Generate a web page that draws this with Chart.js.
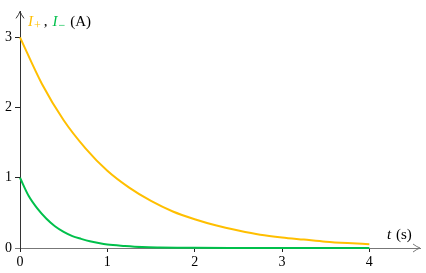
<!DOCTYPE html>
<html><head><meta charset="utf-8">
<script src="https://cdn.jsdelivr.net/npm/chart.js@4.4.0/dist/chart.umd.min.js"></script>
<style>html,body{margin:0;padding:0;background:#fff;}#wrap{width:426px;height:273px;position:relative;}</style>
</head><body><div id="wrap"><canvas id="c" width="426" height="273"></canvas></div>
<script>
const tPlus = [0,0.25,0.5,0.75,1,1.25,1.5,1.75,2,2.25,2.5,2.75,3,3.25,3.5,3.75,4];
const iPlus = [3,2.34,1.82,1.42,1.10,0.86,0.67,0.52,0.41,0.32,0.25,0.19,0.15,0.12,0.09,0.07,0.055];
const tMinus = [0,0.1,0.2,0.3,0.4,0.5,0.6,0.7,0.8,0.9,1,1.2,1.4,1.6,1.8,2,2.5,3,3.5,4];
const iMinus = [1,0.74,0.56,0.42,0.31,0.23,0.17,0.13,0.095,0.07,0.05,0.03,0.015,0.008,0.004,0.002,0.001,0,0,0];
const xTicks = [0,1,2,3,4];
const yTicks = [0,1,2,3];
const colPlus = '#ffbf00';
const colMinus = '#00c04b';

const serif = '"Liberation Serif", "DejaVu Serif", serif';

const decor = {
  id:'decor',
  afterDraw(chart){
    const ctx = chart.ctx, a = chart.chartArea;
    ctx.save();
    ctx.strokeStyle = '#333'; ctx.lineWidth = 1;
    ctx.beginPath();
    ctx.moveTo(a.left-4, a.top+7); ctx.quadraticCurveTo(a.left-1, a.top+3, a.left, a.top);
    ctx.quadraticCurveTo(a.left+1, a.top+3, a.left+4, a.top+7);
    ctx.stroke();
    ctx.strokeStyle = '#777';
    ctx.beginPath();
    ctx.moveTo(a.right-7, a.bottom-4); ctx.quadraticCurveTo(a.right-3, a.bottom-1, a.right, a.bottom);
    ctx.quadraticCurveTo(a.right-3, a.bottom+1, a.right-7, a.bottom+4);
    ctx.stroke();
    ctx.beginPath(); ctx.moveTo(a.left-5, a.bottom+0.5); ctx.lineTo(a.left, a.bottom+0.5); ctx.stroke();
    ctx.textBaseline = 'alphabetic';
    let x = 28, y = 26;
    ctx.fillStyle = colPlus; ctx.font = 'italic 15px ' + serif; ctx.fillText('I', x, y); x += ctx.measureText('I').width + 1;
    ctx.font = '12px ' + serif; ctx.fillText('+', x, y+3); x += ctx.measureText('+').width + 3;
    ctx.fillStyle = '#000'; ctx.font = '15px ' + serif; ctx.fillText(',', x, y); x += ctx.measureText(',').width + 5;
    ctx.fillStyle = colMinus; ctx.font = 'italic 15px ' + serif; ctx.fillText('I', x, y); x += ctx.measureText('I').width + 1;
    ctx.font = '12px ' + serif; ctx.fillText('\u2212', x, y+3); x += ctx.measureText('\u2212').width + 5;
    ctx.fillStyle = '#000'; ctx.font = '15px ' + serif; ctx.fillText('(A)', x, y);
    ctx.font = 'italic 15px ' + serif; ctx.fillText('t', 387, 239);
    ctx.font = '15px ' + serif; ctx.fillText('(s)', 396, 239);
    ctx.restore();
  }
};

new Chart(document.getElementById('c'), {
  type:'scatter',
  data:{datasets:[
    {data:tPlus.map((t,i)=>({x:t,y:iPlus[i]})), showLine:true, borderColor:colPlus, borderWidth:2, pointRadius:0, cubicInterpolationMode:'monotone', fill:false},
    {data:tMinus.map((t,i)=>({x:t,y:iMinus[i]})), showLine:true, borderColor:colMinus, borderWidth:2, pointRadius:0, cubicInterpolationMode:'monotone', fill:false}
  ]},
  options:{
    responsive:false, animation:false, clip:false,
    layout:{padding:{top:8,right:6,left:0,bottom:0}},
    plugins:{legend:{display:false}, tooltip:{enabled:false}},
    scales:{
      x:{type:'linear', min:0, max:4.58,
        afterBuildTicks(s){ s.ticks = xTicks.map(v=>({value:v})); },
        afterFit(s){ s.height = 25; },
        border:{display:true, color:'#777', width:1},
        grid:{drawOnChartArea:false, drawTicks:true, tickLength:4, color:'#222'},
        ticks:{color:'#000', padding:2, maxRotation:0, font:{family:serif, size:14}}
      },
      y:{type:'linear', min:0, max:3.37,
        afterBuildTicks(s){ s.ticks = yTicks.map(v=>({value:v})); },
        afterFit(s){ s.width = 20; },
        border:{display:true, color:'#333', width:1},
        grid:{drawOnChartArea:false, drawTicks:true, tickLength:5, color:'#222'},
        ticks:{color:'#000', padding:3, font:{family:serif, size:14}}
      }
    }
  },
  plugins:[decor]
});
</script></body></html>
